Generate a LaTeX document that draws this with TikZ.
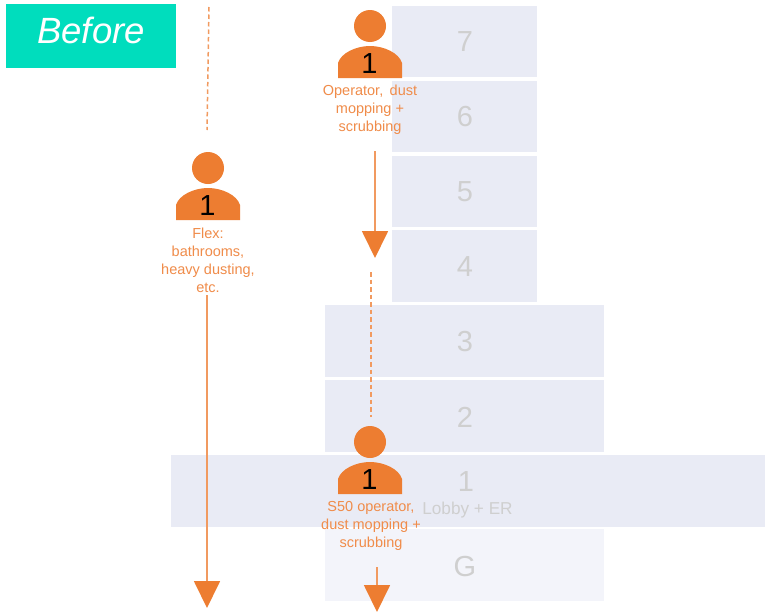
\documentclass[tikz,border=0pt]{standalone}
\usepackage{fontspec}
\setmainfont{Liberation Sans}
\usetikzlibrary{arrows.meta}
\definecolor{orng}{HTML}{ED7D31}
\definecolor{orngl}{HTML}{F19A60}
\definecolor{orngt}{HTML}{F08C4A}
\definecolor{floorc}{HTML}{E9EBF5}
\definecolor{floorg}{HTML}{F3F4FA}
\definecolor{teal}{HTML}{00DDBD}
\definecolor{greyt}{HTML}{CFCFCF}
\tikzset{
 x=1pt,y=-1pt,
 floornum/.style={text=greyt,font=\fontsize{29}{29}\selectfont,inner sep=0pt},
 lbl/.style={text=orngt,align=center,inner sep=0pt,font=\fontsize{14.5}{18}\selectfont},
 head/.style={fill=orng,draw=none,circle,minimum size=32pt,inner sep=0pt},
 cnt/.style={text=black,font=\fontsize{29}{29}\selectfont,inner sep=0pt},
 dash line/.style={draw=orngl,line width=1.5pt,dash pattern=on 4.5pt off 3pt},
 flow/.style={draw=orngl,line width=1.8pt,-{Triangle[length=27pt,width=26pt,color=orng]}},
}
\newcommand{\person}[3]{%
 \node[head] (#1h) at (#2,#3) {};
 \fill[orng] (#2-32,#3+52) -- (#2-32,#3+37) .. controls (#2-29,#3+27) and (#2-14,#3+20) .. (#2,#3+20) .. controls (#2+14,#3+20) and (#2+29,#3+27) .. (#2+32,#3+37) -- (#2+32,#3+52) -- cycle;
 \node[cnt] (#1n) at (#2-0.5,#3+38) {1};
}
\newcommand{\flr}[6]{%
 \fill[#6] (#2,#3) rectangle (#4,#5);
 \coordinate (#1) at (#2,#3);
}
\begin{document}
\begin{tikzpicture}
\useasboundingbox (0,0) rectangle (769,616);
\fill[white] (0,0) rectangle (769,616);
\flr{f7}{391.5}{5.5}{537}{77}{floorc}
\flr{f6}{391.5}{80.5}{537}{152}{floorc}
\flr{f5}{391.5}{155.5}{537}{227}{floorc}
\flr{f4}{391.5}{230}{537}{302}{floorc}
\flr{f3}{325}{305}{604}{377}{floorc}
\flr{f2}{325}{380}{604}{452}{floorc}
\flr{f1}{171}{454.5}{765}{526.5}{floorc}
\flr{fg}{325}{529}{604}{601}{floorg}
\node[floornum] (n7) at (465,42) {7};
\node[floornum] (n6) at (465,117) {6};
\node[floornum] (n5) at (465,192) {5};
\node[floornum] (n4) at (465,267) {4};
\node[floornum] (n3) at (465,342) {3};
\node[floornum] (n2) at (465,417) {2};
\node[floornum] (n1) at (466,482) {1};
\node[text=greyt,font=\fontsize{17.2}{17.2}\selectfont,inner sep=0pt] (lobby) at (467.5,510) {Lobby + ER};
\node[floornum] (ng) at (465,567) {G};
\fill[teal] (6,4) rectangle (176,68);
\node[text=white,font=\fontsize{36.5}{36.5}\itshape\selectfont,inner sep=0pt] (before) at (91,30) {Before};
\person{a}{370}{26}
\person{b}{208}{168}
\person{c}{370}{442}
\node[lbl] (la) at (370,109.5) {Operator, \,dust\\mopping +\\scrubbing};
\node[lbl] (lb) at (208,260.5) {Flex:\\bathrooms,\\heavy dusting,\\etc.};
\node[lbl] (lc) at (371,526) {S50 operator,\\dust mopping +\\scrubbing};
\coordinate (d1a) at (209,7);
\coordinate (d1b) at (207,130);
\draw[dash line] (d1a) -- (d1b);
\coordinate (d2a) at (371,272);
\coordinate (d2b) at (371,417);
\draw[dash line] (d2a) -- (d2b);
\coordinate (e1a) at (207,295);
\coordinate (e1b) at (207,608);
\draw[flow] (e1a) -- (e1b);
\coordinate (e2a) at (375,151);
\coordinate (e2b) at (375,258);
\draw[flow] (e2a) -- (e2b);
\coordinate (e3a) at (377,567);
\coordinate (e3b) at (377,612);
\draw[flow] (e3a) -- (e3b);
\end{tikzpicture}
\end{document}
